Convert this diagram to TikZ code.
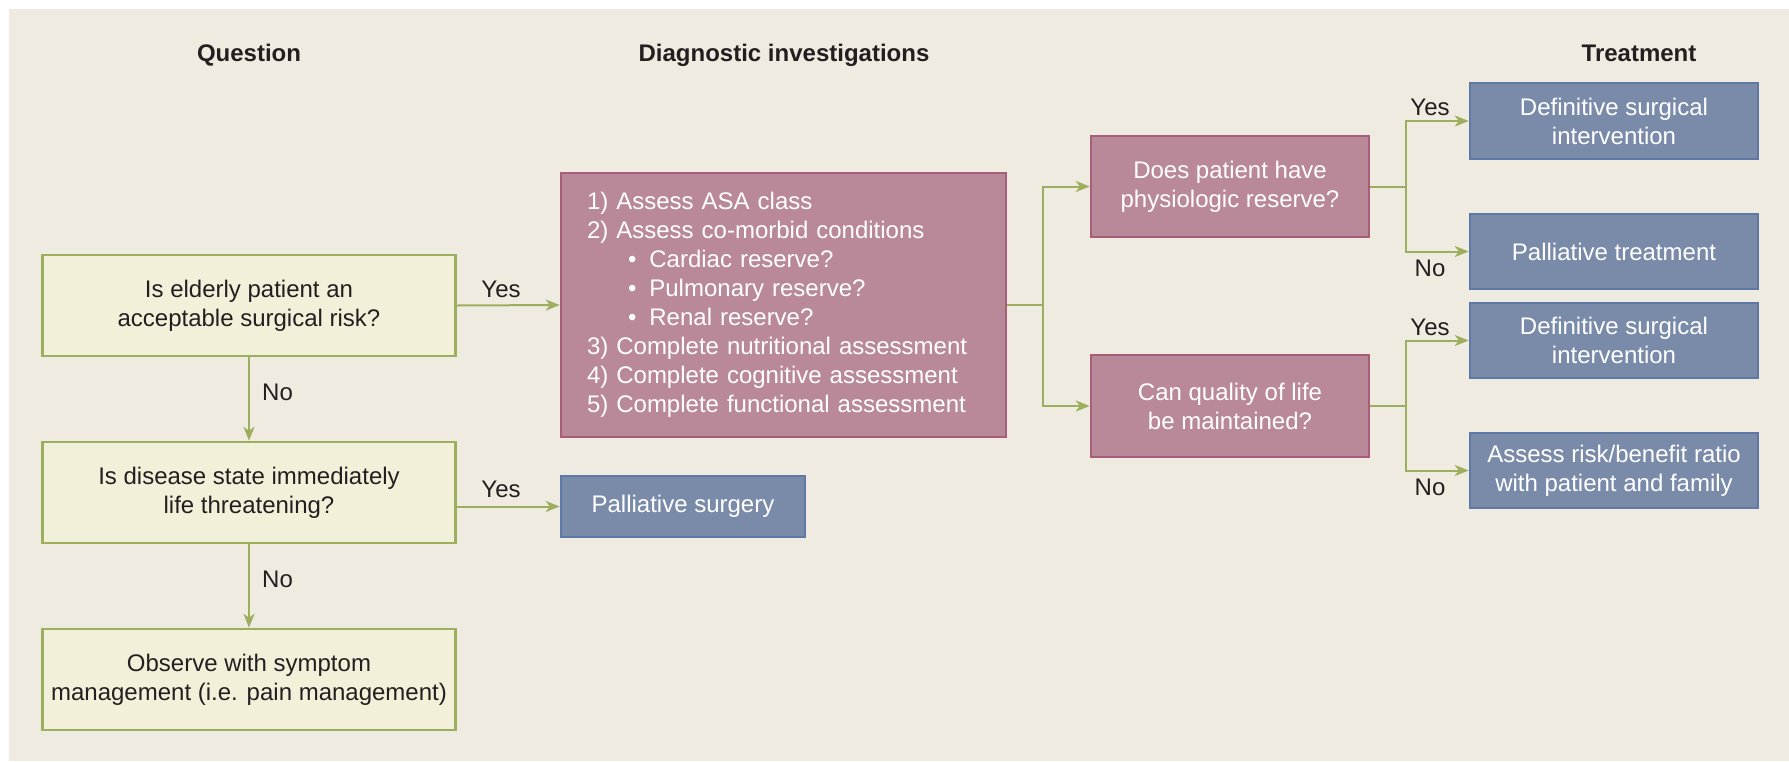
\documentclass[tikz,border=0pt]{standalone}
\usepackage{fontspec}
\setmainfont{Liberation Sans}
\usetikzlibrary{arrows.meta}
\definecolor{bgc}{HTML}{EFEBE0}
\definecolor{gfill}{HTML}{F3F0DA}
\definecolor{gline}{HTML}{9DAE5E}
\definecolor{pfill}{HTML}{B9899A}
\definecolor{pline}{HTML}{A65E7A}
\definecolor{bfill}{HTML}{7A8BAA}
\definecolor{bline}{HTML}{5E79A5}
\definecolor{txt}{HTML}{231F20}
\tikzset{
  base/.style={rectangle, line width=2.5pt, align=center, inner sep=0pt,
    font=\fontsize{24}{29}\selectfont},
  qbox/.style={base, draw=gline, fill=gfill, text=txt},
  pbox/.style={base, draw=pline, fill=pfill, text=white},
  bbox/.style={base, draw=bline, fill=bfill, text=white},
  hdr/.style={font=\fontsize{24}{29}\selectfont\bfseries, text=txt, anchor=base, inner sep=0pt},
  lbl/.style={font=\fontsize{24}{29}\selectfont, text=txt, inner sep=0pt},
  arr/.style={draw=gline, line width=2pt, -{Stealth[length=14pt, width=11pt, inset=4pt]}},
  ln/.style={draw=gline, line width=2pt}
}
\begin{document}
\begin{tikzpicture}[x=1pt, y=-1pt]
\useasboundingbox (0,0) rectangle (1789,761);
\fill[white] (0,0) rectangle (1789,761);
\fill[bgc] (9,9) rectangle (1789,761);

% headers
\node[hdr] (h1) at (249,61) {Question};
\node[hdr] (h2) at (784,61) {Diagnostic investigations};
\node[hdr] (h3) at (1639,61) {Treatment};

% question column
\node[qbox, minimum width=413pt, minimum height=101pt] (q1) at (249,305.5)
  {Is elderly patient an\\acceptable surgical risk?};
\node[qbox, minimum width=413pt, minimum height=101pt] (q2) at (249,492.5)
  {Is disease state immediately\\life threatening?};
\node[qbox, minimum width=413pt, minimum height=101pt] (q3) at (249,679.5)
  {Observe with symptom\\management (i.e. pain management)};

% diagnostic box
\node[pbox, minimum width=445pt, minimum height=264pt, align=left,
  text width=393pt, inner xsep=26pt] (dg) at (783.5,305)
  {1) Assess ASA class\\
   2) Assess co-morbid conditions\\
   \hspace*{41pt}•\hspace{13pt}Cardiac reserve?\\
   \hspace*{41pt}•\hspace{13pt}Pulmonary reserve?\\
   \hspace*{41pt}•\hspace{13pt}Renal reserve?\\
   3) Complete nutritional assessment\\
   4) Complete cognitive assessment\\
   5) Complete functional assessment};

\node[bbox, minimum width=244pt, minimum height=61pt] (ps) at (683,506.5) {Palliative surgery};

% second-level questions
\node[pbox, minimum width=278pt, minimum height=101pt] (pa) at (1230,186.5)
  {Does patient have\\physiologic reserve?};
\node[pbox, minimum width=278pt, minimum height=102pt] (pb) at (1230,406)
  {Can quality of life\\be maintained?};

% treatments
\node[bbox, minimum width=288pt, minimum height=76pt] (t1) at (1614,121)
  {Definitive surgical\\intervention};
\node[bbox, minimum width=288pt, minimum height=75pt] (t2) at (1614,251.5)
  {Palliative treatment};
\node[bbox, minimum width=288pt, minimum height=75pt] (t3) at (1614,340.5)
  {Definitive surgical\\intervention};
\node[bbox, minimum width=288pt, minimum height=75pt] (t4) at (1614,470.5)
  {Assess risk/benefit ratio\\with patient and family};

% connectors
\draw[arr] (q1.east) -- (dg.west);
\node[lbl] (y1) at (501,289) {Yes};
\draw[arr] (q1.south) -- (q2.north);
\node[lbl, anchor=west] (n1) at (262,392) {No};
\draw[arr] (q2.south) -- (q3.north);
\node[lbl, anchor=west] (n2) at (262,579) {No};
\coordinate (c2) at (q2.east |- ps.west);
\draw[arr] (c2) -- (ps.west);
\node[lbl] (y2) at (501,489) {Yes};

\coordinate (s1) at (1043,305);
\draw[ln] (dg.east) -- (s1);
\draw[arr] (s1) |- (pa.west);
\draw[arr] (s1) |- (pb.west);

\coordinate (s2) at (1406,186.5);
\draw[ln] (pa.east) -- (s2);
\draw[arr] (s2) |- (t1.west);
\draw[arr] (s2) |- (t2.west);
\node[lbl] (y3) at (1430,107) {Yes};
\node[lbl] (n3) at (1430,268) {No};

\coordinate (s3) at (1406,406);
\draw[ln] (pb.east) -- (s3);
\draw[arr] (s3) |- (t3.west);
\draw[arr] (s3) |- (t4.west);
\node[lbl] (y4) at (1430,327) {Yes};
\node[lbl] (n4) at (1430,487) {No};
\end{tikzpicture}
\end{document}
